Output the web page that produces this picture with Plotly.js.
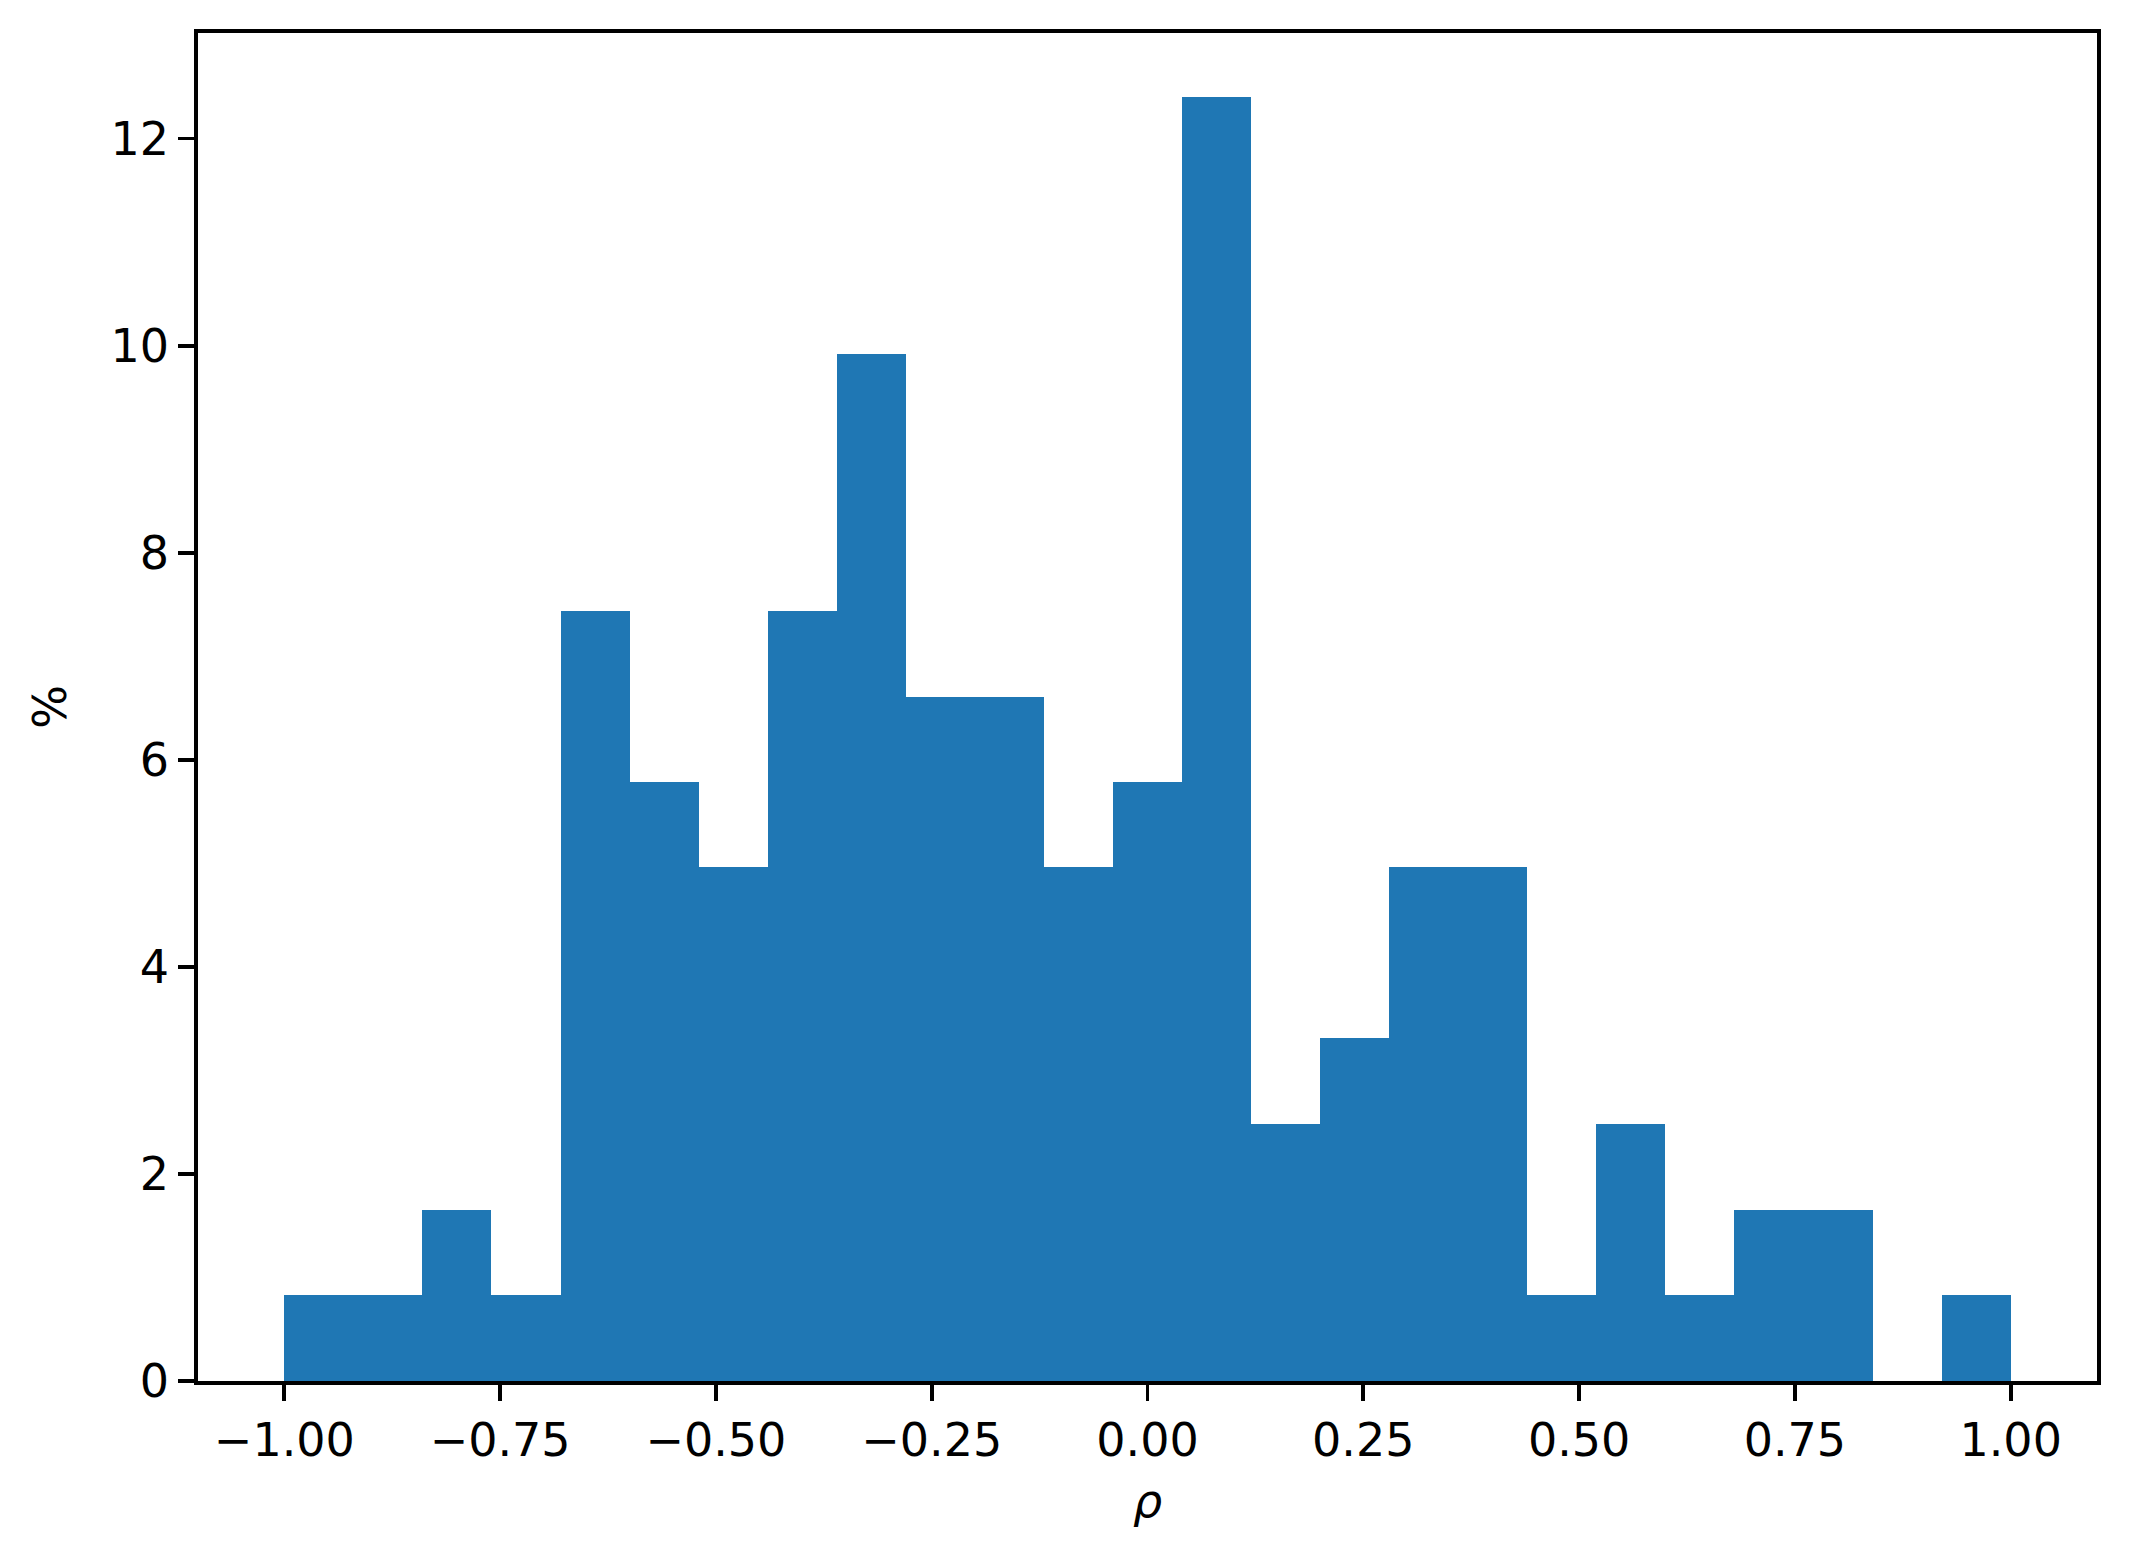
<!DOCTYPE html>
<html>
<head>
<meta charset="utf-8">
<script src="https://cdn.plot.ly/plotly-3.0.1.min.js"></script>
<style>html,body{margin:0;padding:0;background:#fff;}#chart{width:2132px;height:1566px;}</style>
</head>
<body>
<div id="chart"></div>
<script>
// Histogram of rho: 25 bins from -1 to 1, values in percent
const binEdges = [-1.00,-0.92,-0.84,-0.76,-0.68,-0.60,-0.52,-0.44,-0.36,-0.28,-0.20,-0.12,-0.04,0.04,0.12,0.20,0.28,0.36,0.44,0.52,0.60,0.68,0.76,0.84,0.92,1.00];
const percents = [0.83,0.83,1.65,0.83,7.44,5.79,4.96,7.44,9.92,6.61,6.61,4.96,5.79,12.40,2.48,3.31,4.96,4.96,0.83,2.48,0.83,1.65,1.65,0,0.83];
const xTickVals = [-1.00,-0.75,-0.50,-0.25,0.00,0.25,0.50,0.75,1.00];
const xTickText = ["\u22121.00","\u22120.75","\u22120.50","\u22120.25","0.00","0.25","0.50","0.75","1.00"];
const yTickVals = [0,2,4,6,8,10,12];
const xTitle = "<i>\u03c1</i>";
const yTitle = "%";

const centers = [], widths = [];
for (let i = 0; i < percents.length; i++) {
  centers.push((binEdges[i] + binEdges[i+1]) / 2);
  widths.push(binEdges[i+1] - binEdges[i]);
}
const xMin = binEdges[0], xMax = binEdges[binEdges.length-1];
const xPad = (xMax - xMin) * 0.05;
const yMax = Math.max(...percents) * 1.05;

const font = {family: "DejaVu Sans", size: 46, color: "#000"};
const trace = {
  type: "bar", x: centers, y: percents, width: widths,
  marker: {color: "#1f77b4", line: {width: 0}},
  hoverinfo: "x+y"
};
const axisCommon = {
  showline: true, linecolor: "#000", linewidth: 3.7, mirror: true,
  ticks: "outside", ticklen: 16, tickwidth: 3.7, tickcolor: "#000",
  showgrid: false, zeroline: false, tickfont: font
};
const layout = {
  width: 2132, height: 1566,
  paper_bgcolor: "#fff", plot_bgcolor: "#fff",
  margin: {l: 198, r: 35, t: 33, b: 185},
  showlegend: false, bargap: 0,
  font: font,
  xaxis: Object.assign({}, axisCommon, {
    range: [xMin - xPad, xMax + xPad],
    tickmode: "array", tickvals: xTickVals, ticktext: xTickText,
    title: {text: xTitle, font: font, standoff: 20}
  }),
  yaxis: Object.assign({}, axisCommon, {
    range: [0, yMax],
    tickmode: "array", tickvals: yTickVals, ticktext: yTickVals.map(String),
    title: {text: yTitle, font: font, standoff: 30}
  })
};
Plotly.newPlot("chart", [trace], layout, {displayModeBar: false, staticPlot: true});
</script>
</body>
</html>
